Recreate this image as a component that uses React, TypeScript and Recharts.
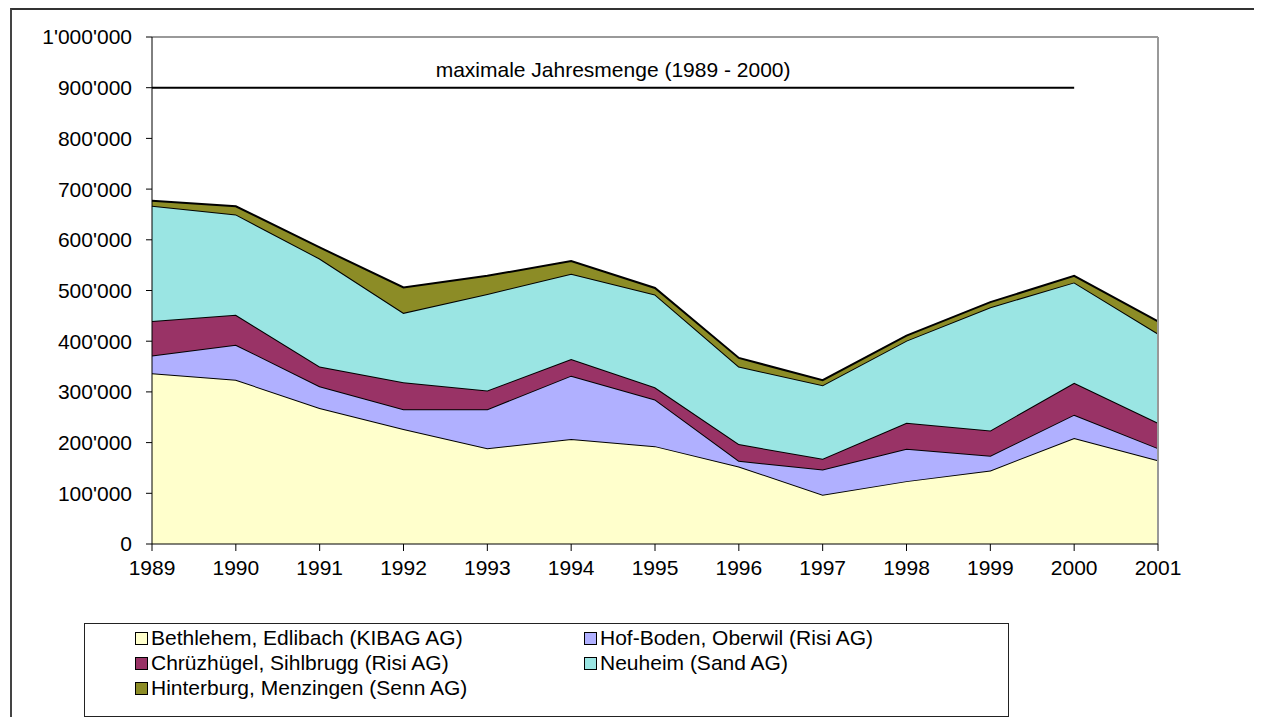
import React from 'react';
import { AreaChart, Area, XAxis, YAxis, ReferenceLine } from 'recharts';

// values in tonnes per year
const years = ['1989', '1990', '1991', '1992', '1993', '1994', '1995', '1996', '1997', '1998', '1999', '2000', '2001'];
const bethlehem = [337000, 324000, 268000, 227000, 189000, 207000, 193000, 153000, 97000, 124000, 145000, 209000, 165000];
const hofBoden = [35000, 69000, 43000, 39000, 77000, 125000, 92000, 11000, 50000, 64000, 29000, 46000, 24000];
const chruzhugel = [68000, 59000, 39000, 53000, 37000, 33000, 24000, 33000, 21000, 51000, 50000, 63000, 50000];
const neuheim = [227000, 198000, 213000, 137000, 190000, 168000, 183000, 153000, 145000, 162000, 243000, 198000, 176000];
const hinterburg = [10000, 16000, 22000, 50000, 36000, 25000, 13000, 17000, 10000, 10000, 10000, 13000, 24000];
const yTicks = [0, 100000, 200000, 300000, 400000, 500000, 600000, 700000, 800000, 900000, 1000000];
const maxLine = 900000;
const maxLabel = 'maximale Jahresmenge (1989 - 2000)';

const series = [
  { key: 'bethlehem', name: 'Bethlehem, Edlibach (KIBAG AG)', color: '#FFFFCC' },
  { key: 'hofBoden', name: 'Hof-Boden, Oberwil (Risi AG)', color: '#B0B0FF' },
  { key: 'chruzhugel', name: 'Chrüzhügel, Sihlbrugg (Risi AG)', color: '#993366' },
  { key: 'neuheim', name: 'Neuheim (Sand AG)', color: '#9AE5E3' },
  { key: 'hinterburg', name: 'Hinterburg, Menzingen (Senn AG)', color: '#8C8C26' },
];

const data = years.map((year, i) => ({
  year,
  bethlehem: bethlehem[i],
  hofBoden: hofBoden[i],
  chruzhugel: chruzhugel[i],
  neuheim: neuheim[i],
  hinterburg: hinterburg[i],
}));

const FONT = '"Liberation Sans", Arial, sans-serif';

const fmt = (v: number) => String(v).replace(/\B(?=(\d{3})+(?!\d))/g, "'");

// legend reads row by row, two columns
const legendOrder = [0, 1, 2, 3, 4];

const App: React.FC = () => {
  return (
    <div style={{ position: 'relative', width: 1246, height: 709, fontFamily: FONT }}>
      <style>{'body{overflow:hidden}'}</style>
      {/* outer frame, only top/left visible in the screenshot */}
      <div
        style={{
          position: 'absolute',
          left: 2,
          top: 0,
          width: 1252,
          height: 709,
          borderTop: '2px solid #333',
          borderLeft: '2px solid #444',
          boxSizing: 'border-box',
        }}
      />
      <AreaChart
        width={1246}
        height={709}
        data={data}
        margin={{ top: 29, right: 96, left: 0, bottom: 133 }}
        style={{ position: 'absolute', left: 0, top: 0 }}
      >
        <XAxis
          dataKey="year"
          tickSize={7}
          tickMargin={9}
          height={40}
          stroke="#000"
          tick={{ fill: '#000', fontSize: 21, fontFamily: FONT }}
          interval={0}
        />
        <YAxis
          width={144}
          domain={[0, 1000000]}
          ticks={yTicks}
          tickFormatter={fmt}
          tickSize={6}
          tickMargin={14}
          stroke="#000"
          tick={{ fill: '#000', fontSize: 21, fontFamily: FONT }}
          interval={0}
        />
        {series.map((s) => (
          <Area
            key={s.key}
            type="linear"
            dataKey={s.key}
            name={s.name}
            stackId="1"
            stroke="#000"
            strokeWidth={2}
            fill={s.color}
            fillOpacity={1}
            isAnimationActive={false}
          />
        ))}
        <ReferenceLine y={1000000} stroke="#999" strokeWidth={2} />
        <ReferenceLine x="2001" stroke="#999" strokeWidth={2} />
        <ReferenceLine
          segment={[{ x: '1989', y: maxLine }, { x: '2000', y: maxLine }]}
          stroke="#000"
          strokeWidth={2}
          label={{ value: maxLabel, position: 'top', offset: 11, fill: '#000', fontSize: 21, fontFamily: FONT }}
        />
      </AreaChart>
      {/* legend */}
      <div
        style={{
          position: 'absolute',
          left: 76,
          top: 615,
          width: 925,
          height: 94,
          border: '1px solid #222',
          boxSizing: 'border-box',
          background: '#fff',
        }}
      >
        {legendOrder.map((idx, n) => {
          const s = series[idx];
          const col = n % 2;
          const row = Math.floor(n / 2);
          return (
            <div
              key={s.key}
              style={{
                position: 'absolute',
                left: col === 0 ? 50 : 499,
                top: 2 + row * 25,
                display: 'flex',
                alignItems: 'center',
                fontSize: 21,
                lineHeight: '24px',
                color: '#000',
                whiteSpace: 'nowrap',
              }}
            >
              <span
                style={{
                  display: 'inline-block',
                  width: 11,
                  height: 11,
                  background: s.color,
                  border: '1px solid #000',
                  marginRight: 3,
                }}
              />
              {s.name}
            </div>
          );
        })}
      </div>
    </div>
  );
};

export default App;
